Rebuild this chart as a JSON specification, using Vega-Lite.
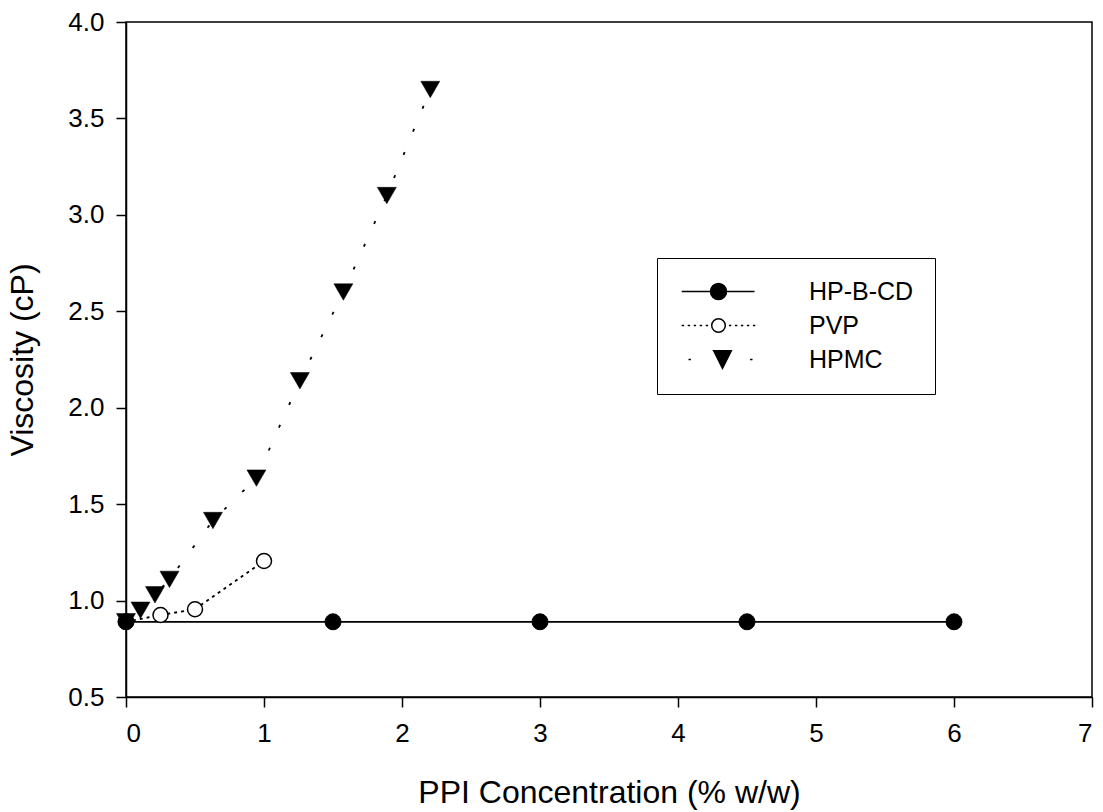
{
  "$schema": "https://vega.github.io/schema/vega-lite/v6.json",
  "width": 966,
  "height": 675,
  "autosize": "none",
  "padding": {"left": 126, "top": 22, "right": 11, "bottom": 115},
  "background": "white",
  "config": {
    "view": {"stroke": "black", "strokeWidth": 1.5},
    "axis": {
      "grid": false,
      "domainColor": "black",
      "domainWidth": 1.5,
      "tickColor": "black",
      "tickWidth": 1.5,
      "tickSize": 10,
      "labelColor": "black",
      "labelFont": "Liberation Sans",
      "labelFontSize": 26,
      "titleColor": "black",
      "titleFont": "Liberation Sans",
      "titleFontSize": 32,
      "titleFontWeight": "normal"
    }
  },
  "data": {
    "values": [
      {"series": "HP-B-CD", "conc": 0, "visc": 0.89},
      {"series": "HP-B-CD", "conc": 1.5, "visc": 0.89},
      {"series": "HP-B-CD", "conc": 3, "visc": 0.89},
      {"series": "HP-B-CD", "conc": 4.5, "visc": 0.89},
      {"series": "HP-B-CD", "conc": 6, "visc": 0.89},
      {"series": "PVP", "conc": 0, "visc": 0.89},
      {"series": "PVP", "conc": 0.25, "visc": 0.925},
      {"series": "PVP", "conc": 0.5, "visc": 0.955},
      {"series": "PVP", "conc": 1, "visc": 1.205},
      {"series": "HPMC", "conc": 0, "visc": 0.89},
      {"series": "HPMC", "conc": 0.105, "visc": 0.95},
      {"series": "HPMC", "conc": 0.21, "visc": 1.03},
      {"series": "HPMC", "conc": 0.315, "visc": 1.11},
      {"series": "HPMC", "conc": 0.63, "visc": 1.415},
      {"series": "HPMC", "conc": 0.945, "visc": 1.635},
      {"series": "HPMC", "conc": 1.26, "visc": 2.14},
      {"series": "HPMC", "conc": 1.575, "visc": 2.6},
      {"series": "HPMC", "conc": 1.89, "visc": 3.1},
      {"series": "HPMC", "conc": 2.205, "visc": 3.65}
    ]
  },
  "encoding": {
    "x": {
      "field": "conc", "type": "quantitative",
      "scale": {"domain": [0, 7], "nice": false, "zero": false},
      "axis": {
        "values": [0, 1, 2, 3, 4, 5, 6, 7], "format": "d",
        "title": "PPI Concentration (% w/w)",
        "labelPadding": 13,
        "titleBaseline": "middle", "titleY": 95, "titleX": 483
      }
    },
    "y": {
      "field": "visc", "type": "quantitative",
      "scale": {"domain": [0.5, 4.0], "nice": false, "zero": false},
      "axis": {
        "values": [0.5, 1.0, 1.5, 2.0, 2.5, 3.0, 3.5, 4.0], "format": ".1f",
        "title": "Viscosity (cP)",
        "labelPadding": 12,
        "titleBaseline": "middle", "titleX": -104, "titleY": 337.5, "titleAngle": -90
      }
    }
  },
  "layer": [
    {
      "transform": [{"filter": "datum.series === 'HP-B-CD'"}],
      "mark": {"type": "line", "color": "black", "strokeWidth": 1.8},
      "encoding": {}
    },
    {
      "transform": [{"filter": "datum.series === 'PVP'"}],
      "mark": {"type": "line", "color": "black", "strokeWidth": 1.8, "strokeDash": [3, 4]},
      "encoding": {}
    },
    {
      "transform": [{"filter": "datum.series === 'HPMC'"}],
      "mark": {"type": "line", "color": "black", "strokeWidth": 1.8, "strokeDash": [3, 22]},
      "encoding": {}
    },
    {
      "transform": [{"filter": "datum.series === 'PVP'"}],
      "mark": {"type": "point", "shape": "circle", "filled": true, "fill": "white", "stroke": "black", "strokeWidth": 1.5, "size": 225, "opacity": 1}
    },
    {
      "transform": [{"filter": "datum.series === 'HP-B-CD'"}],
      "mark": {"type": "point", "shape": "circle", "filled": true, "fill": "black", "stroke": "black", "strokeWidth": 1, "size": 256, "opacity": 1}
    },
    {
      "transform": [{"filter": "datum.series === 'HPMC'"}],
      "mark": {"type": "point", "shape": "triangle-down", "filled": true, "fill": "black", "stroke": "black", "strokeWidth": 0.5, "size": 361, "opacity": 1}
    },
    {
      "mark": {"type": "point", "filled": true, "opacity": 0, "stroke": "black"},
      "encoding": {
        "shape": {
          "field": "series", "type": "nominal",
          "scale": {
            "domain": ["HP-B-CD", "PVP", "HPMC"],
            "range": [
              "M-4.6,0L-1,0M1,0L4.5,0M-1,0A1,1,0,1,0,1,0A1,1,0,1,0,-1,0Z",
              "M-4.6,0L-4.3,0M-3.85,0L-3.55,0M-3.1,0L-2.8,0M-2.35,0L-2.05,0M-1.6,0L-1.3,0M-0.85,0A0.85,0.85,0,1,0,0.85,0A0.85,0.85,0,1,0,-0.85,0ZM1.3,0L1.6,0M2.05,0L2.35,0M2.8,0L3.1,0M3.55,0L3.85,0M4.3,0L4.6,0",
              "M-3.75,0L-3.45,0M-0.6,-1.1L1.6,-1.1L0.5,1.1ZM3.95,0L4.25,0"
            ]
          },
          "legend": {
            "title": null,
            "orient": "none",
            "legendX": 531,
            "legendY": 236,
            "strokeColor": "black",
            "fillColor": "white",
            "padding": 21,
            "rowPadding": 8,
            "symbolSize": 256,
            "symbolOffset": 28,
            "labelOffset": 78,
            "symbolStrokeColor": "black",
            "symbolOpacity": 1,
            "labelFont": "Liberation Sans",
            "labelFontSize": 25,
            "labelColor": "black",
            "labelLimit": 300,
            "encode": {"symbols": {"update": {"opacity": {"value": 1}, "stroke": {"value": "black"}, "strokeWidth": {"value": 1.5}}}}
          }
        },
        "fill": {
          "field": "series", "type": "nominal",
          "scale": {"domain": ["HP-B-CD", "PVP", "HPMC"], "range": ["black", "white", "black"]},
          "legend": {
            "title": null,
            "orient": "none",
            "legendX": 531,
            "legendY": 236,
            "strokeColor": "black",
            "fillColor": "white",
            "padding": 21,
            "rowPadding": 8,
            "symbolSize": 256,
            "symbolOffset": 28,
            "labelOffset": 78,
            "symbolStrokeColor": "black",
            "symbolOpacity": 1,
            "labelFont": "Liberation Sans",
            "labelFontSize": 25,
            "labelColor": "black",
            "labelLimit": 300,
            "encode": {"symbols": {"update": {"opacity": {"value": 1}, "stroke": {"value": "black"}, "strokeWidth": {"value": 1.5}}}}
          }
        }
      }
    }
  ]
}
